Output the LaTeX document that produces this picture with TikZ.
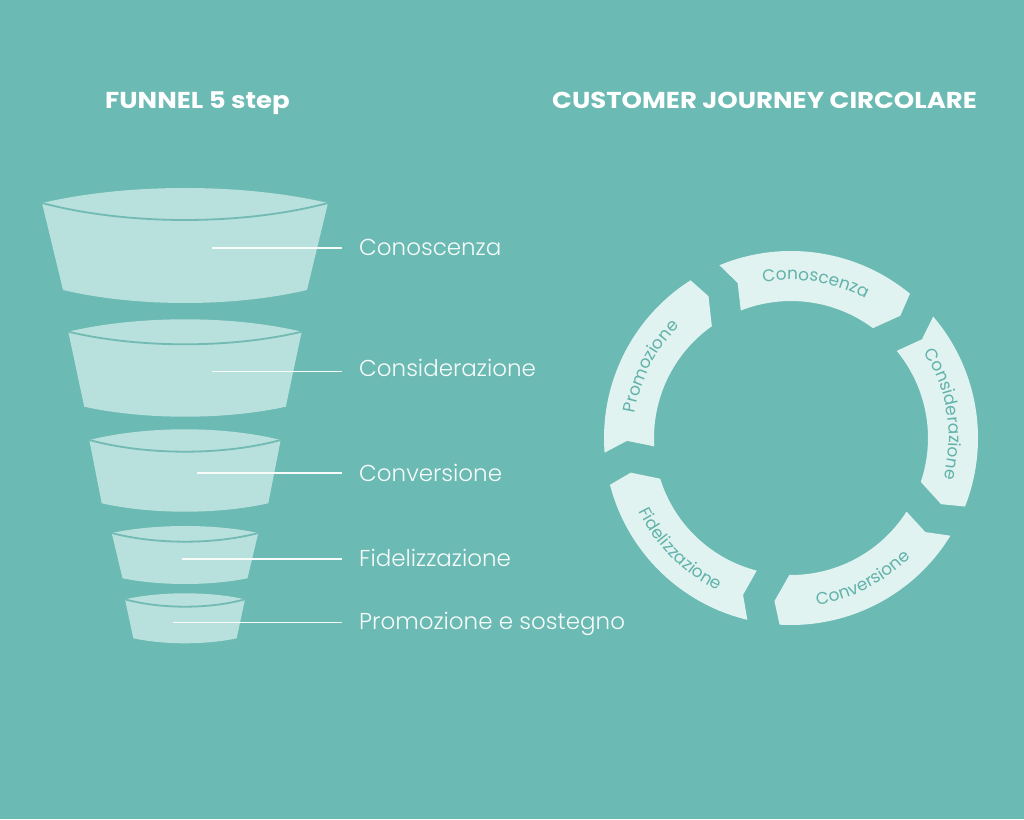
\documentclass[tikz,border=0pt]{standalone}
\usepackage{fontspec}
\usetikzlibrary{decorations.text}
\IfFontExistsTF{Poppins Light}{\newfontfamily\labfont{Poppins Light}}{\newfontfamily\labfont{Poppins}}
\IfFontExistsTF{Poppins Bold}{\newfontfamily\titfont{Poppins Bold}[FakeStretch=1.13]}{\newfontfamily\titfont{Poppins}[FakeBold=2,FakeStretch=1.13]}
\newfontfamily\segfont{Poppins}
\definecolor{bg}{HTML}{6BBAB3}
\definecolor{funfill}{HTML}{B8E0DC}
\definecolor{rimcol}{HTML}{72BBB4}
\definecolor{segfill}{HTML}{E1F3F1}
\definecolor{segtext}{HTML}{62B2AA}
\definecolor{labcol}{HTML}{F7FCFB}
\tikzset{
  funnelfill/.style={fill=funfill},
  rimline/.style={draw=rimcol, line width=1.8pt},
  leader/.style={draw=labcol, line width=1.6pt},
  lab/.style={anchor=base west, inner sep=0pt, text=labcol, font=\labfont\fontsize{23}{28}\selectfont},
  title/.style={anchor=base west, inner sep=0pt, text=white, font=\titfont\fontsize{23}{27}\selectfont},
  segpiece/.style={fill=segfill},
}
\newcommand\fpiece[8]{%
  \fill[funnelfill] (#1-#3,#2) .. controls (#1-#3*0.4,#2+#4*4/3) and (#1+#3*0.4,#2+#4*4/3) .. (#1+#3,#2)
     -- (#1+#7,#6) .. controls (#1+#7*0.4,#6-#8*4/3) and (#1-#7*0.4,#6-#8*4/3) .. (#1-#7,#6) -- cycle;
  \draw[rimline] (#1-#3,#2) .. controls (#1-#3*0.4,#2-#5*4/3) and (#1+#3*0.4,#2-#5*4/3) .. (#1+#3,#2);
}
\def\Ro{187}
\def\Ri{137}
\def\Ra{164}
\newcommand\cseg[1]{%
  \fill[segpiece] (#1:\Ro) arc[start angle=#1, end angle=#1-62, radius=\Ro]
     -- (#1-64.3:\Ra) -- (#1-59.2:\Ri) arc[start angle=#1-59.2, end angle=#1-1, radius=\Ri]
     -- (#1-3.5:\Ra) -- cycle;}
\newcommand\cwtext[2]{% tail angle, text (clockwise, tops outward)
  \path[decorate, decoration={text along path, text align=center,
      text={|\segfont\fontsize{17}{20}\selectfont\color{segtext}|#2}}]
      (#1-1:158) arc[start angle=#1-1, end angle=#1-62, radius=158];}
\newcommand\ccwtext[2]{% tail angle, text (counter-clockwise, tops inward)
  \path[decorate, decoration={text along path, text align=center,
      text={|\segfont\fontsize{17}{20}\selectfont\color{segtext}|#2}}]
      (#1-62:169) arc[start angle=#1-62, end angle=#1-1, radius=169];}
\begin{document}
\begin{tikzpicture}[x=1pt,y=1pt]
\fill[bg] (0,0) rectangle (1024,819);
\path[use as bounding box] (0,0) rectangle (1024,819);

% titles
\node[title] (t1) at (105,710) {FUNNEL 5 step};
\node[title] (t2) at (552,710) {CUSTOMER JOURNEY CIRCOLARE};

% funnel pieces: cx, rimY, halfTop, sagTop, sagFront, botY, halfBot, sagBot
\fpiece{185}{616}{143}{15}{17}{529}{122}{13}
\fpiece{185}{487.3}{116.7}{12.4}{12.6}{412.3}{100.8}{10}
\fpiece{185}{379}{95.7}{10.7}{11.7}{315.7}{83.3}{8.4}
\fpiece{185}{286}{73.3}{7}{8.7}{240.7}{62.5}{5.7}
\fpiece{185}{219.7}{60}{6}{7.4}{180.7}{51.7}{5}

% labels
\node[lab] (l1) at (359,563.5) {Conoscenza};
\node[lab] (l2) at (359,442.3) {Considerazione};
\node[lab] (l3) at (359,337.3) {Conversione};
\node[lab] (l4) at (359,252.3) {Fidelizzazione};
\node[lab] (l5) at (359,189.7) {Promozione e sostegno};

% leader lines
\coordinate (s1) at (212,570.7); \coordinate (e1) at (342,570.7);
\coordinate (s2) at (212,447.3); \coordinate (e2) at (342,447.3);
\coordinate (s3) at (197,345.7); \coordinate (e3) at (342,345.7);
\coordinate (s4) at (182,259.7); \coordinate (e4) at (342,259.7);
\coordinate (s5) at (173,196.3); \coordinate (e5) at (342,196.3);
\draw[leader] (s1) -- (e1);
\draw[leader] (s2) -- (e2);
\draw[leader] (s3) -- (e3);
\draw[leader] (s4) -- (e4);
\draw[leader] (s5) -- (e5);

% circular journey
\begin{scope}[shift={(791,381)}]
  \cseg{112.5}
  \cseg{40.5}
  \cseg{-31.5}
  \cseg{-103.5}
  \cseg{-175.5}
  \cwtext{112.5}{Conoscenza}
  \cwtext{40.5}{Considerazione}
  \ccwtext{-31.5}{Conversione}
  \ccwtext{-103.5}{Fidelizzazione}
  \cwtext{-175.5}{Promozione}
\end{scope}
\end{tikzpicture}
\end{document}
